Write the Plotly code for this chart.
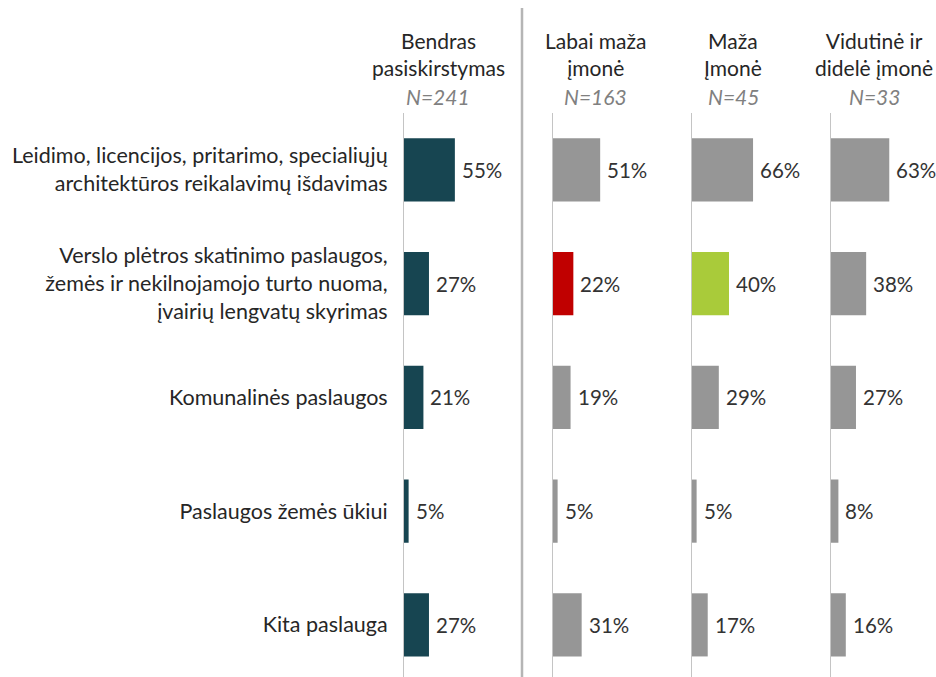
import plotly.graph_objects as go

categories = [
    "Leidimo, licencijos, pritarimo, specialiųjų<br>architektūros reikalavimų išdavimas",
    "Verslo plėtros skatinimo paslaugos,<br>žemės ir nekilnojamojo turto nuoma,<br>įvairių lengvatų skyrimas",
    "Komunalinės paslaugos",
    "Paslaugos žemės ūkiui",
    "Kita paslauga",
]
groups = ["Bendras<br>pasiskirstymas", "Labai maža<br>įmonė", "Maža<br>Įmonė", "Vidutinė ir<br>didelė įmonė"]
group_n = ["N=241", "N=163", "N=45", "N=33"]
values = [
    [55, 27, 21, 5, 27],
    [51, 22, 19, 5, 31],
    [66, 40, 29, 5, 17],
    [63, 38, 27, 8, 16],
]
colors = [
    ["#174551"] * 5,
    ["#969696", "#C00000", "#969696", "#969696", "#969696"],
    ["#969696", "#A9CB3A", "#969696", "#969696", "#969696"],
    ["#969696"] * 5,
]

W, H = 936, 677
base_px = [404, 553, 692, 831]
head_dx = [34, 42, 41, 43]
px_per_pct = 0.925
panel_w = 100 * px_per_pct
top_px, bot_px = 113, 677
row_px = 113.75
span = (bot_px - top_px) / row_px

FONT = "Lato, Open Sans, sans-serif"
FS = 21
fig = go.Figure()
for i in range(4):
    xa = "x" if i == 0 else f"x{i+1}"
    ya = "y" if i == 0 else f"y{i+1}"
    fig.add_trace(go.Bar(
        x=values[i], y=list(range(5)), orientation="h",
        marker=dict(color=colors[i], line=dict(width=0)),
        cliponaxis=False, xaxis=xa, yaxis=ya, width=0.555,
        hoverinfo="skip",
    ))
    for j, v in enumerate(values[i]):
        fig.add_annotation(x=v, y=j, xref=xa, yref=ya, text=f"{v}%",
                           showarrow=False, xanchor="left", yanchor="middle",
                           xshift=5, font=dict(size=20.5, color="#333333", family=FONT))
    x0 = base_px[i] / W
    x1 = (base_px[i] + panel_w) / W
    xkey = "xaxis" if i == 0 else f"xaxis{i+1}"
    ykey = "yaxis" if i == 0 else f"yaxis{i+1}"
    fig.layout[xkey] = dict(domain=[x0, x1], range=[0, 100], visible=False,
                            anchor=ya, automargin=False)
    ydict = dict(
        domain=[0, (H - top_px) / H], range=[-0.5 + span, -0.5],
        anchor=xa, showline=True, linecolor="#c4c4c4", linewidth=1,
        showgrid=False, zeroline=False, ticks="", automargin=False,
        tickmode="array", tickvals=list(range(5)),
    )
    if i == 0:
        ydict.update(ticktext=categories, showticklabels=True,
                     tickfont=dict(size=21.5, color="#262626", family=FONT),
                     ticklabelstandoff=11)
    else:
        ydict.update(showticklabels=False)
    fig.layout[ykey] = ydict

    cx = (base_px[i] + head_dx[i]) / W
    fig.add_annotation(x=cx, y=1 - 54 / H, xref="paper", yref="paper",
                       text=groups[i], showarrow=False, xanchor="center", yanchor="middle",
                       font=dict(size=FS, color="#262626", family=FONT), align="center")
    fig.add_annotation(x=cx, y=1 - 96 / H, xref="paper", yref="paper",
                       text=f"<i>{group_n[i]}</i>", showarrow=False,
                       xanchor="center", yanchor="middle",
                       font=dict(size=FS, color="#808080", family=FONT), align="center")

fig.add_shape(type="line", xref="paper", yref="paper",
              x0=522 / W, x1=522 / W, y0=0, y1=1 - 8 / H,
              line=dict(color="#b5b5b5", width=2.5))

fig.update_layout(
    width=W, height=H, margin=dict(l=0, r=0, t=0, b=0, autoexpand=False),
    paper_bgcolor="white", plot_bgcolor="white", showlegend=False,
    font=dict(family=FONT),
)
fig.write_html("out.html", config={"displayModeBar": False},
               post_script="document.body.style.margin='0';document.body.style.overflow='hidden';")
